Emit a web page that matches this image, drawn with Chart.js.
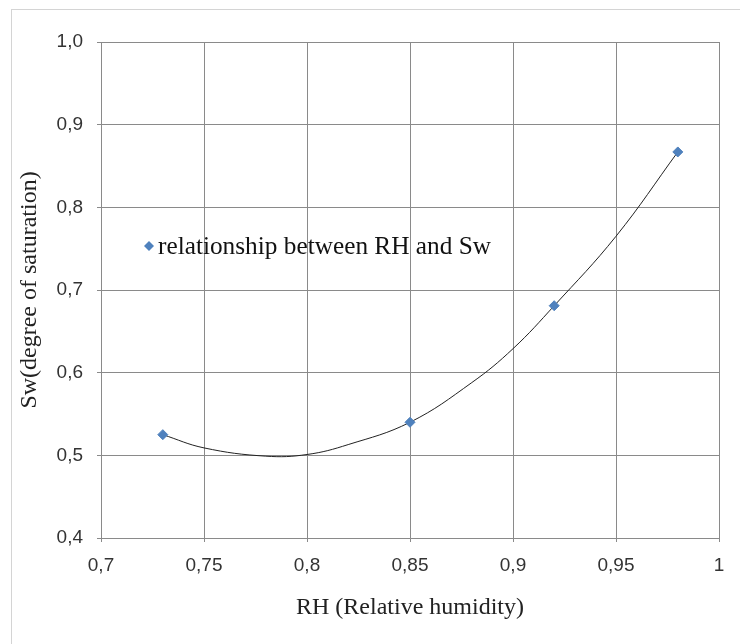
<!DOCTYPE html>
<html>
<head>
<meta charset="utf-8">
<script src="https://cdn.jsdelivr.net/npm/chart.js@4/dist/chart.umd.min.js"></script>
<style>
  html, body { margin: 0; padding: 0; background: #fff; }
  #wrap { width: 740px; height: 644px; position: relative; }
</style>
</head>
<body>
<div id="wrap"><canvas id="rh-chart" width="740" height="644"></canvas></div>
<script>
// measured points
const rhValues = [0.73, 0.85, 0.92, 0.98];
const swValues = [0.525, 0.54, 0.681, 0.867];

// trendline
const trendRh = [0.73, 0.75, 0.78, 0.80, 0.82, 0.85, 0.88, 0.90, 0.92, 0.95, 0.98];
const trendSw = [0.525, 0.509, 0.499, 0.501, 0.513, 0.54, 0.588, 0.629, 0.681, 0.765, 0.867];

const xTicks = [0.7, 0.75, 0.8, 0.85, 0.9, 0.95, 1];
const yTicks = [0.4, 0.5, 0.6, 0.7, 0.8, 0.9, 1.0];

const seriesLabel = 'relationship between RH and Sw';
const pointColor = '#4F81BD';
const gridColor = '#8a8a8a';

// comma decimals like the original
function fmtX(v) {
  return String(+v.toFixed(2)).replace('.', ',');
}
function fmtY(v) {
  return v.toFixed(1).replace('.', ',');
}

// outer frame + legend drawn inside plot
const framePlugin = {
  id: 'frame',
  beforeDraw(chart) {
    const ctx = chart.ctx;
    ctx.save();
    ctx.fillStyle = '#fff';
    ctx.fillRect(0, 0, chart.width, chart.height);
    ctx.strokeStyle = '#d4d4d4';
    ctx.lineWidth = 1;
    ctx.strokeRect(11.5, 9.5, chart.width + 20, chart.height + 20);
    ctx.restore();
  },
  afterDraw(chart) {
    const ctx = chart.ctx;
    const cx = 149, cy = 246;
    ctx.save();
    ctx.fillStyle = pointColor;
    ctx.beginPath();
    ctx.moveTo(cx, cy - 5);
    ctx.lineTo(cx + 5, cy);
    ctx.lineTo(cx, cy + 5);
    ctx.lineTo(cx - 5, cy);
    ctx.closePath();
    ctx.fill();
    ctx.fillStyle = '#111';
    ctx.font = '25.3px "Liberation Serif", "Times New Roman", serif';
    ctx.textBaseline = 'middle';
    ctx.fillText(chart.data.datasets[0].label, 158, cy + 1);
    ctx.restore();
  }
};

const ctx = document.getElementById('rh-chart').getContext('2d');

new Chart(ctx, {
  type: 'scatter',
  data: {
    datasets: [
      {
        label: seriesLabel,
        data: rhValues.map((x, i) => ({ x: x, y: swValues[i] })),
        pointStyle: 'rectRot',
        pointRadius: 5,
        pointHoverRadius: 5,
        backgroundColor: pointColor,
        borderColor: pointColor,
        borderWidth: 1,
        order: 0
      },
      {
        label: 'trend',
        type: 'line',
        data: trendRh.map((x, i) => ({ x: x, y: trendSw[i] })),
        borderColor: '#222',
        borderWidth: 1,
        pointRadius: 0,
        fill: false,
        tension: 0.4,
        order: 1
      }
    ]
  },
  options: {
    responsive: false,
    animation: false,
    layout: { padding: { top: 42, right: 21, bottom: 0, left: 0 } },
    plugins: {
      legend: { display: false },
      tooltip: { enabled: false }
    },
    scales: {
      x: {
        type: 'linear',
        min: 0.7,
        max: 1,
        afterBuildTicks: (scale) => { scale.ticks = xTicks.map(v => ({ value: v })); },
        afterFit: (scale) => { scale.height = 106; },
        grid: { color: gridColor, lineWidth: 1, tickLength: 4 },
        border: { color: gridColor },
        ticks: {
          color: '#333',
          padding: 12,
          font: { family: '"Liberation Sans", Arial, sans-serif', size: 19 },
          callback: (v) => fmtX(v)
        },
        title: {
          display: true,
          text: 'RH (Relative humidity)',
          color: '#222',
          font: { family: '"Liberation Serif", "Times New Roman", serif', size: 24 },
          padding: { top: 0, bottom: 22 }
        }
      },
      y: {
        type: 'linear',
        min: 0.4,
        max: 1.0,
        afterBuildTicks: (scale) => { scale.ticks = yTicks.map(v => ({ value: v })); },
        afterFit: (scale) => { scale.width = 101; },
        grid: { color: gridColor, lineWidth: 1, tickLength: 4 },
        border: { color: gridColor },
        ticks: {
          color: '#333',
          padding: 14,
          font: { family: '"Liberation Sans", Arial, sans-serif', size: 19 },
          callback: (v) => fmtY(v)
        },
        title: {
          display: true,
          text: 'Sw(degree of saturation)',
          color: '#222',
          font: { family: '"Liberation Serif", "Times New Roman", serif', size: 24 },
          padding: { top: 15, bottom: 0 }
        }
      }
    }
  },
  plugins: [framePlugin]
});
</script>
</body>
</html>
